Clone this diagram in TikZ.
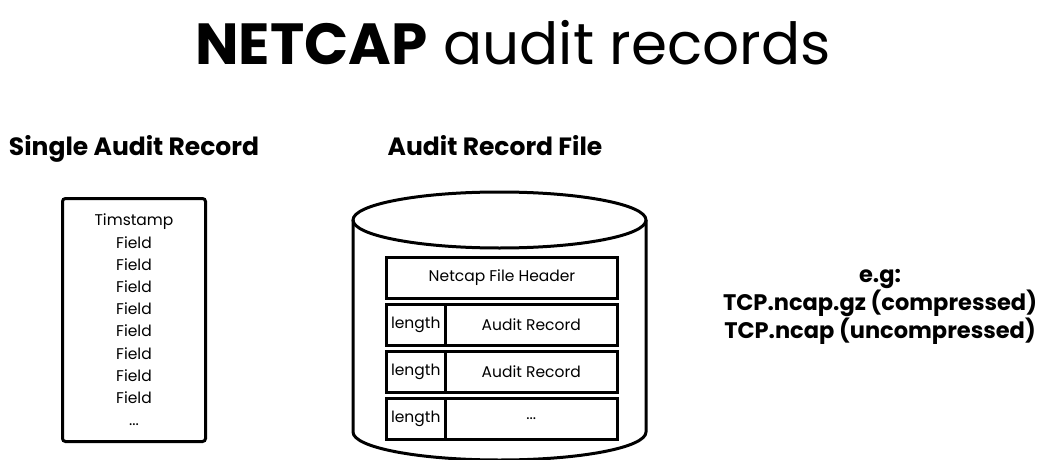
\documentclass[tikz,border=0pt]{standalone}
\usepackage{fontspec}
\setmainfont{Poppins}
\usetikzlibrary{positioning}

\tikzstyle{Title} = [font=\fontsize{58}{64}\selectfont, anchor=base]
\tikzstyle{Heading} = [font=\fontsize{25}{28}\selectfont\bfseries, anchor=base]
\tikzstyle{Note} = [font=\fontsize{22.5}{22.7}\selectfont\bfseries, align=center]
\tikzstyle{RecBox} = [
draw,
line width=3pt,
rounded corners=3pt,
minimum width=143pt,
minimum height=243pt]
\tikzstyle{Cell} = [
draw,
line width=3pt,
minimum height=41pt,
inner sep=0pt,
font=\fontsize{15.5}{18}\selectfont]

\begin{document}
\begin{tikzpicture}[x=1pt, y=-1pt]
    \useasboundingbox (0,0) rectangle (1052,460);

    % title
    \node [Title] (title) at (513,65) {\textbf{NETCAP} audit records};

    % single record
    \node [Heading] (single) at (134,155) {Single Audit Record};
    \node [RecBox] (record) at (134,320) {};
    \node [align=center, font=\fontsize{15.5}{22.2}\selectfont] (fields) at (record.center)
        {Timstamp\\Field\\Field\\Field\\Field\\Field\\Field\\Field\\Field\\...};

    % record file
    \node [Heading] (file) at (495,155) {Audit Record File};
    \coordinate (top) at (499.5,220);
    \coordinate (bot) at (499.5,432);
    \draw [line width=3pt] (top) ellipse (146.5 and 28);
    \draw [line width=3pt] ([xshift=-146.5pt]top) -- ([xshift=-146.5pt]bot)
        arc (180:0:146.5 and 28) -- ([xshift=146.5pt]top);

    \node [Cell, minimum width=231pt] (header) at (502,278) {Netcap File Header};
    \node [Cell, minimum width=58.5pt, anchor=north west] (len1)
        at ([yshift=-3pt]header.south west) {length};
    \node [Cell, minimum width=172.5pt, anchor=west] (rec1)
        at ([xshift=-3pt]len1.east) {Audit Record};
    \node [Cell, minimum width=58.5pt, below=3pt of len1] (len2) {length};
    \node [Cell, minimum width=172.5pt, anchor=west] (rec2)
        at ([xshift=-3pt]len2.east) {Audit Record};
    \node [Cell, minimum width=58.5pt, below=3pt of len2] (len3) {length};
    \node [Cell, minimum width=172.5pt, anchor=west] (rec3)
        at ([xshift=-3pt]len3.east) {...};

    % example names
    \node [Note] (example) at (880,307)
        {e.g:\\TCP.ncap.gz (compressed)\\TCP.ncap (uncompressed)};
\end{tikzpicture}
\end{document}
